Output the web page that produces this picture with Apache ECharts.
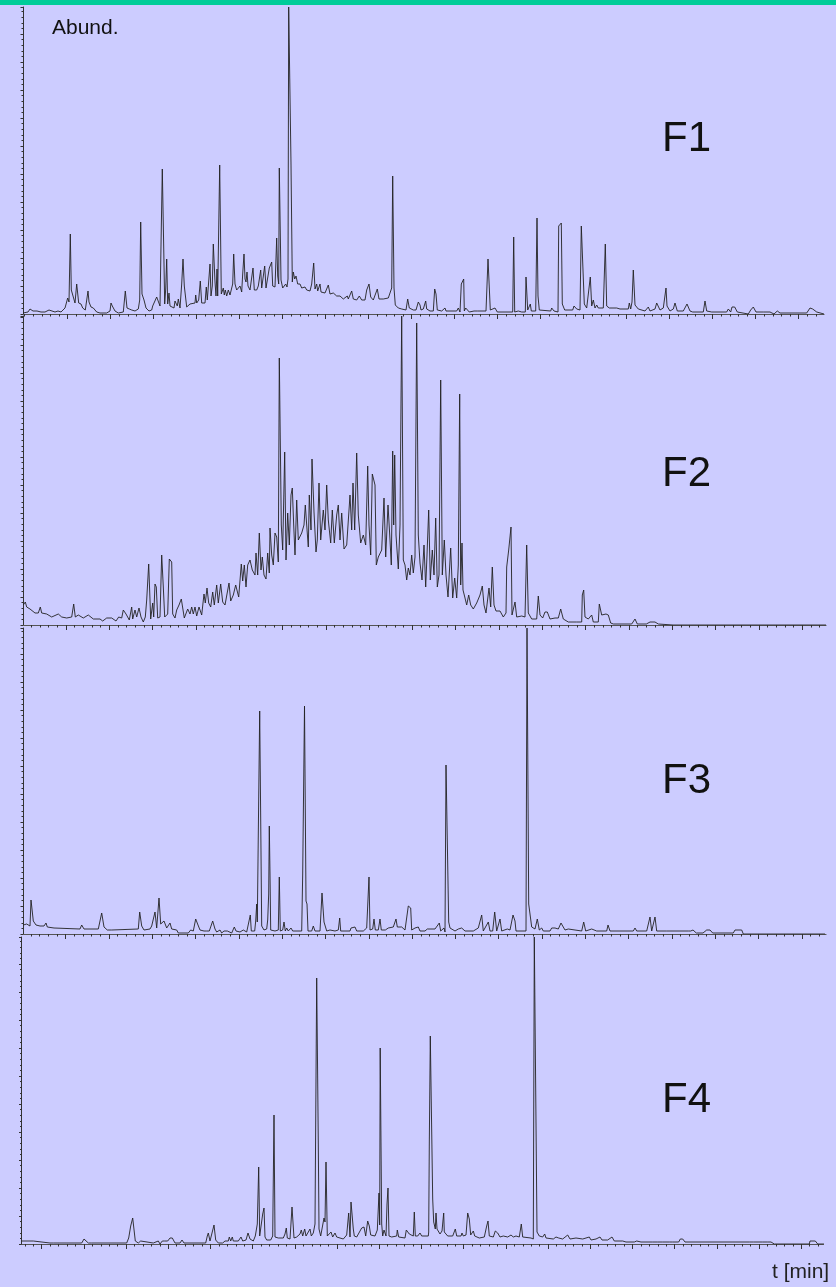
<!DOCTYPE html>
<html><head><meta charset="utf-8">
<style>html,body{margin:0;padding:0;background:#ccccff}#c{width:836px;height:1287px}</style>
<script src="https://cdn.jsdelivr.net/npm/echarts@6/dist/echarts.min.js"></script>
</head><body><div id="c"></div>
<script>
// [scan, abundance]
const f1Trace=[[0,1],[2,2],[5,2],[7,5],[8,5],[10,3],[14,3],[18,2],[20,3],[22,2],[24,3],[26,4],[28,2],[32,2],[35,3],[38,2],[40,3],[42,6],[44.7,16],[46,12],[47.3,80],[48.3,24],[50,22],[52,11],[53,11],[53.7,30],[55,30],[55.7,11],[58,10],[59.7,6],[62.3,4],[64.3,5],[65,23],[66,12],[67,13],[68,7],[70.3,6],[73.7,2],[77,1],[83.7,1],[87,3],[88,11],[89.3,8],[92,3],[95.3,1],[100.3,2],[101.7,3],[102.3,23],[103.3,25],[104,6],[106.3,5],[108.7,4],[112,3],[115.3,5],[116.7,14],[117.7,92],[119,20],[121,14],[123,6],[126,3],[128.7,4],[129.7,8],[131.3,6],[133.7,17],[135.3,16],[137,8],[137.7,50],[139.3,145],[140.3,145],[141,50],[141.7,10],[142.7,25],[143.7,55],[144.7,10],[146,21],[147,8],[148.7,6],[151,6],[152,13],[153.7,14],[154.3,8],[155.3,15],[157,6],[158.7,30],[160,55],[161.3,28],[162.7,28],[163.7,7],[167,10],[172,11],[172.7,19],[173.7,11],[175.7,14],[177.3,33],[178.7,11],[182,11],[183.3,27],[184.3,14],[186.3,16],[187,50],[188,18],[189.3,28],[190.3,70],[192,32],[193,18],[194,45],[194.7,18],[195.3,60],[196.7,149],[197.3,149],[198.3,20],[199.3,18],[200.3,26],[201.3,19],[202.3,24],[203.7,18],[205.3,24],[207,19],[208.7,20],[209.7,30],[210.7,60],[212,30],[213.7,24],[215.3,22],[217,28],[218.7,22],[219.7,40],[221,60],[222,35],[223,32],[224,42],[225,28],[227,24],[228.7,22],[230,46],[231.3,24],[233.7,24],[235.3,28],[237.7,44],[238.7,26],[240.3,26],[241.7,48],[243,26],[244.7,25],[246.3,46],[248.7,52],[249.7,28],[252,27],[253.7,76],[254.7,38],[255.7,30],[256.3,146],[257.3,146],[258,34],[259.7,26],[261,28],[262.7,30],[264,27],[265,35],[265.7,307],[266.7,307],[268,150],[269.3,32],[270.3,42],[271.7,35],[273,38],[274.7,30],[277,30],[278.7,26],[282,27],[283.7,24],[285.3,25],[287,23],[288.7,30],[290.7,51],[292,25],[293.7,30],[294.7,23],[297,30],[298,22],[302,21],[305.3,29],[307,20],[310.3,21],[313.7,18],[317,18],[320.3,15],[324.3,18],[325.3,15],[328.7,23],[330.3,15],[333.7,14],[336.3,18],[338.7,14],[342,14],[343.7,24],[346,30],[347.7,17],[350.3,14],[354.3,25],[356,15],[360.3,15],[365.3,16],[368.7,26],[369.7,138],[371,26],[372.3,9],[375.3,6],[378.7,5],[383,4],[384.7,15],[386.3,6],[390.3,4],[393,4],[395.3,12],[397,9],[398,4],[400.3,5],[402.7,13],[403.7,5],[407,3],[410.3,3],[411.7,25],[413,20],[414.3,4],[418.7,3],[422,6],[423,3],[433.7,3],[435.3,6],[437,2],[438.3,30],[440.7,35],[441.3,3],[442.7,6],[444.3,6],[446.3,2],[451,3],[454.3,3],[456.3,2],[463,3],[465,55],[467.3,4],[472,6],[474.3,2],[481,2],[489.7,2],[490.7,77],[491.7,2],[495.3,3],[498.7,2],[502.3,2],[503,37],[504.7,4],[506.3,3],[507.3,10],[508.3,3],[512.7,3],[514,96],[515,18],[516.3,4],[527.7,3],[528.7,6],[531,3],[535,2],[535.7,88],[538.3,91],[539.3,10],[540.3,10],[541.7,4],[549.7,4],[551,8],[553.7,5],[557,4],[558.3,88],[560.3,89],[561.3,10],[563.7,6],[565.3,6],[567.3,37],[568.7,8],[570.3,14],[572,6],[573.7,9],[575.3,6],[580.3,6],[582.3,70],[583.7,8],[586.3,6],[593.7,6],[595,8],[597,5],[599,7],[605.3,5],[606.3,11],[607.7,5],[609,12],[610.3,44],[612,9],[615.3,5],[622,3],[625.3,7],[627,3],[632,5],[633.7,11],[635.3,11],[637,4],[640.3,6],[643,26],[644,8],[647,3],[650.3,5],[652,11],[654.3,3],[660.3,3],[662,2],[664,10],[667,3],[669.7,2],[680.3,2],[682,13],[683.7,3],[688.7,2],[703.7,2],[705.3,5],[707.7,2],[709,7],[711.7,7],[714.3,2],[725.3,0],[727.7,4],[730.3,7],[733,2],[740.3,2],[747,2],[751,0],[754.3,3],[757,1],[783.7,1],[787,6],[789.7,5],[793.7,2],[795.3,0],[801,0]];
const f2Trace=[[0.3,20],[2.3,23],[3.7,18],[7,16],[12,12],[15.3,12],[17.3,18],[18.7,12],[23.7,11],[28.7,8],[35.3,11],[38.7,8],[43.7,7],[45.3,8],[48.7,8],[50.7,21],[52.3,8],[55.3,10],[60.3,7],[65.3,10],[70.3,6],[77,6],[79.7,4],[83.7,7],[88.7,7],[93,4],[95.7,8],[98.7,7],[100.3,15],[103,11],[106.3,5],[108.7,18],[109.7,6],[112,15],[113.7,8],[116,17],[118,8],[120.3,3],[122.3,8],[123.7,25],[125.7,61],[127.7,6],[129.7,22],[130.7,8],[132,41],[133.3,38],[134.7,7],[137,8],[138.7,70],[140.3,38],[141.7,8],[144.7,11],[146.3,66],[148.7,63],[149.7,11],[152,7],[153.7,15],[156,20],[158.3,26],[160,25],[161.3,7],[163,6],[164.7,16],[167,11],[168.7,18],[170.3,11],[172,18],[173.7,9],[176,18],[178.7,10],[181,31],[182.3,22],[184,37],[185.7,22],[187.7,18],[189.7,33],[191.3,20],[193.7,40],[195.3,22],[197.7,41],[199.7,23],[202,20],[203.7,21],[206,42],[207.7,24],[210.3,30],[212.7,40],[215.7,28],[218.3,61],[219.7,44],[221.3,60],[223,38],[224.7,60],[227,65],[229.3,55],[232,50],[233,72],[234.7,50],[236.3,92],[238,55],[239.3,68],[241,50],[243,46],[244.7,72],[246.3,52],[247,97],[248.7,70],[250.3,60],[252,92],[253.7,88],[255.3,63],[256.3,267],[258.3,100],[259.7,75],[261.7,173],[263,65],[264.7,112],[266.3,80],[268,130],[269.3,137],[270.7,100],[272,70],[273.7,125],[275.3,85],[277,85],[278.7,92],[281,100],[282.3,120],[283.7,100],[285.3,78],[286.3,130],[288,95],[289,166],[291,113],[293,73],[294.3,85],[296,142],[297.7,85],[300.3,115],[302,95],[303.7,140],[305.3,105],[307.7,82],[309.3,115],[311.3,82],[313.7,110],[315.3,120],[317,85],[318.7,112],[321,76],[323.7,80],[327,130],[328.7,95],[330,142],[331.7,95],[333.7,172],[335.3,110],[337.7,82],[340.3,90],[342.7,80],[344.7,159],[346,100],[347.7,70],[349.3,151],[352,140],[353.3,60],[355.3,68],[358.7,75],[361,127],[362.7,68],[365,120],[367,85],[368.3,60],[369.7,174],[370.7,100],[371.7,170],[373,90],[375.3,56],[377,100],[378.7,309],[380.3,65],[382,60],[383.7,45],[385.3,57],[387,50],[388.7,70],[390.3,52],[392,68],[393.7,302],[395.3,90],[397,62],[399,45],[401,80],[402.7,38],[404,70],[405.7,115],[407.3,45],[409.3,75],[411,50],[412.7,107],[414.3,38],[416,50],[417.7,245],[419.3,50],[421.3,85],[423,50],[425,28],[427.7,77],[429.7,27],[431.7,47],[433.7,27],[435.3,60],[436.7,231],[437.7,40],[439,82],[440,35],[442,27],[443.7,20],[445.7,30],[447.7,20],[450.3,16],[453.7,22],[457,30],[459.3,39],[461,20],[463,12],[466,37],[467.7,18],[469.3,58],[471,20],[473,14],[477,14],[480.3,8],[483,12],[483.7,58],[485,58],[485.7,75],[488,98],[489,10],[492,23],[493.7,8],[498.7,9],[502,8],[503.7,80],[505.3,12],[508.7,6],[513.7,6],[515.3,29],[517,10],[519.7,7],[522,13],[524.3,13],[527,6],[532,7],[535.3,7],[537.7,16],[540.3,6],[545.3,3],[553.7,3],[558.7,3],[559.3,30],[560.7,35],[562,8],[565.3,6],[568.7,10],[570.3,3],[575.3,3],[576.3,21],[578.7,10],[580.3,11],[583,11],[585.3,10],[587.7,2],[590.3,1],[602,1],[608.7,1],[612,6],[614.3,1],[623.3,1],[627,3],[628.7,1],[632,3],[635.3,1],[650,0],[803,0]];
const f3Trace=[[0.3,9],[3.7,10],[7,8],[8,34],[10.3,13],[13,9],[17,8],[21,8],[23,11],[24.3,7],[31,6],[32,5],[57,5],[58.7,9],[61,5],[67,5],[75.3,5],[78.7,21],[81,7],[84.3,4],[88.7,4],[115.3,5],[116.7,22],[118.7,8],[121,4],[127,5],[128.7,8],[130.3,6],[132,22],[133.7,6],[136,36],[137.7,10],[141,13],[143.7,6],[147,11],[148.7,5],[153.7,4],[155.3,1],[165.3,1],[167.7,4],[170.3,3],[171.3,1],[172.7,15],[173.7,15],[175,9],[177,4],[181,3],[183.7,3],[186.3,3],[188.3,1],[189.7,13],[192,5],[193.7,2],[197,4],[198.7,1],[201,3],[204.3,3],[208.7,1],[211.3,7],[213,3],[217,2],[220.3,4],[223.7,2],[225.7,3],[227.3,19],[228.3,3],[231.7,3],[232.7,13],[233.7,30],[234.3,12],[236.7,223],[237.7,223],[238.7,8],[241,4],[243.7,5],[244.7,14],[245.7,40],[246.3,108],[247,60],[247.7,4],[252,3],[255.3,4],[256.3,57],[257.3,3],[259.7,4],[261,12],[262.3,3],[263.7,6],[265.3,3],[268,6],[269.7,3],[278.7,3],[279.7,60],[281.5,228],[282.3,228],[283,33],[284,30],[285,3],[288.7,3],[290.3,8],[292,3],[297,3],[299,41],[301,12],[302.7,12],[303.7,3],[307,4],[308.7,6],[312,3],[315.3,4],[316.7,16],[317.7,3],[327,3],[328,6],[329.7,5],[332,7],[333.7,3],[340.3,3],[343.7,6],[345,8],[346,57],[347,4],[349.7,5],[351,15],[352.3,4],[355.3,4],[357,15],[358.3,4],[360.3,6],[362.3,4],[365.3,6],[367,4],[370.3,7],[373,15],[374.3,7],[378.7,7],[382,4],[385.3,28],[387.7,26],[388.7,4],[392,6],[395.3,7],[397,3],[398.7,5],[402,3],[404.3,5],[412,5],[413.7,5],[416.3,11],[417.7,3],[421,6],[422,2],[423,169],[424.3,169],[425.7,12],[427,6],[432,3],[435.3,5],[438.7,6],[442,3],[447,3],[450.3,3],[455.3,6],[457.3,6],[458.7,19],[460.3,3],[465.3,12],[467,3],[469.7,3],[471.7,22],[473.7,3],[477,15],[478.7,3],[484.3,5],[487,4],[488.7,3],[490,19],[492,13],[493,3],[503,3],[504,306],[505,306],[505.7,30],[507,20],[508.7,7],[512,5],[514.3,15],[516.3,4],[518.7,6],[520.3,3],[527,3],[528.7,6],[532,6],[535.3,5],[538,11],[539.7,8],[542,4],[545.3,5],[547,3],[558.7,3],[560.7,12],[562.7,3],[568.7,5],[570.3,3],[573.7,3],[583.7,3],[585,9],[587,3],[610.3,3],[612,6],[613.7,3],[623.7,3],[627,17],[628.7,3],[630.3,3],[632,17],[633.7,3],[643.7,3],[665.3,3],[667.7,3],[670,4],[673.3,1],[680,1],[683.7,4],[687,4],[689.7,1],[710.3,1],[712,4],[718.7,4],[720.3,0],[802,0]];
const f4Trace=[[0.2,3],[8.5,3],[9.5,1],[11.8,3],[13.5,1],[28.5,1],[30.2,3],[31.8,1],[60.2,1],[62.5,5],[64.2,6],[66.8,1],[70.2,1],[71.8,3],[73.5,1],[105.2,1],[107.2,6],[109.2,18],[111.2,26],[112.8,26],[113.8,3],[116.8,1],[119.2,3],[121.2,1],[131.8,1],[133.5,3],[136.8,3],[138.5,0],[140.8,3],[143.2,3],[144.5,1],[146.2,3],[148.5,6],[150.8,6],[153.5,1],[158.5,1],[160.5,4],[162.5,1],[168.5,1],[170.5,3],[172.5,1],[184.2,1],[185.8,8],[186.8,11],[188.5,3],[190.5,11],[192.5,19],[194.2,4],[196.8,1],[198.5,3],[201.2,1],[203.5,3],[206.8,3],[207.8,7],[209.2,3],[210.8,7],[211.8,3],[216.8,3],[219.5,7],[221.2,3],[224.5,4],[226.5,11],[228.5,5],[231.8,3],[233.8,8],[235.2,6],[235.8,20],[237.2,77],[238.2,8],[240.2,7],[241.2,30],[242.5,36],[243.5,7],[245.2,4],[249.2,4],[251.2,8],[252.5,129],[253.5,7],[256.8,6],[261.8,6],[263.5,10],[264.8,16],[265.8,6],[268.5,5],[270.5,37],[271.8,36],[272.5,6],[275.2,7],[276.8,6],[278.5,10],[279.8,14],[281.2,8],[283.2,15],[284.5,8],[286.8,12],[288.5,15],[289.8,8],[291.8,11],[293.5,20],[295.2,266],[296.2,266],[296.8,100],[297.5,15],[299.2,8],[301.2,8],[302.5,26],[303.5,22],[304.5,82],[305.8,8],[307.8,8],[309.5,12],[311.2,7],[313.5,11],[315.2,7],[321.8,5],[325.2,9],[327.2,31],[328.5,7],[329.5,42],[331.2,42],[331.8,15],[332.8,8],[335.2,7],[340.2,16],[342.5,17],[344.2,8],[346.2,23],[347.8,18],[349.2,9],[351.2,11],[353.5,8],[355.8,14],[357.5,51],[358.2,19],[358.7,196],[360.2,20],[361.2,8],[362.5,14],[364.5,8],[365.5,40],[366.5,56],[367.5,8],[370.2,7],[375.2,8],[375.8,14],[377.2,7],[383.5,6],[384.8,14],[387.8,10],[391.8,8],[392.8,32],[393.8,8],[396.2,8],[398.5,11],[400.2,8],[401.8,9],[406.8,8],[407.2,12],[407.8,100],[408.8,208],[410.2,208],[411.2,45],[412.2,22],[413.8,15],[414.5,31],[415.5,15],[418.5,10],[420.5,13],[422.2,31],[422.8,12],[426.2,8],[431.2,8],[433.8,15],[435.2,8],[439.5,8],[440.5,11],[441.8,8],[444.5,9],[446.2,31],[447.8,25],[449.2,9],[451.8,13],[453.2,8],[457.8,6],[462.8,7],[465.2,18],[466.5,23],[467.8,8],[471.8,7],[473.8,13],[476.2,11],[478.5,7],[481.8,8],[483.8,10],[486.2,7],[489.5,9],[491.8,7],[494.5,8],[497.8,7],[499.8,20],[501.2,7],[509.5,6],[511.8,5],[512.8,307],[514.8,307],[515.5,12],[517.8,8],[521.2,7],[523.2,10],[524.5,6],[531.8,5],[534.5,7],[537.2,6],[541.2,5],[546.2,9],[548.5,5],[554.5,6],[561.2,5],[567.8,7],[569.5,4],[574.5,5],[576.2,7],[578.5,7],[580.5,4],[586.2,4],[590.5,7],[592.8,3],[601.2,3],[604.5,2],[612.8,2],[615.2,3],[619.5,2],[631.2,2],[633.2,3],[636.2,2],[637.8,3],[641.2,2],[647.8,2],[649.2,3],[651.2,2],[657.2,2],[658.8,5],[661.2,5],[663.5,2],[727.8,2],[729.5,0],[731.8,2],[741.2,2],[741.8,0],[746.2,2],[749.5,2],[751.2,0],[752.8,0],[787.8,0],[788.5,3],[793.8,3],[796.2,0],[802.5,0]];
const traces=[f1Trace,f2Trace,f3Trace,f4Trace];
const panelNames=['F1','F2','F3','F4'];
const axisTitleY='Abund.';
const axisTitleX='t [min]';

const panels=[
 {left:23,  top:7,   w:801, h:307, tick0:44.7, step:43.0, nameY:142},
 {left:23,  top:316, w:803, h:309, tick0:43,   step:43.3, nameY:477},
 {left:23,  top:628, w:803, h:306, tick0:42.7, step:43.3, nameY:784},
 {left:21.5,top:937, w:802, h:307, tick0:20.2, step:42.2, nameY:1103}
];
function ticks(start,step,end){const r=[];for(let v=start;v<=end;v+=step)r.push(+v.toFixed(2));return r;}

const grid=[],xAxis=[],yAxis=[],series=[];
panels.forEach((p,i)=>{
  grid.push({left:p.left,top:p.top,width:p.w,height:p.h,containLabel:false});
  const line={show:true,onZero:false,lineStyle:{color:'#555',width:1.2}};
  const minor=p.step/5;
  let first=p.tick0%minor;
  xAxis.push({gridIndex:i,type:'value',min:0,max:p.w,position:'bottom',axisLine:line,splitLine:{show:false},axisLabel:{show:false},
    axisTick:{show:true,length:2.5,lineStyle:{color:'#333',width:1},customValues:ticks(first,minor,p.w)}});
  xAxis.push({gridIndex:i,type:'value',min:0,max:p.w,position:'bottom',axisLine:{show:false},splitLine:{show:false},axisLabel:{show:false},
    axisTick:{show:true,length:5,lineStyle:{color:'#333',width:1},customValues:ticks(p.tick0,p.step,p.w)}});
  yAxis.push({gridIndex:i,type:'value',min:0,max:p.h,interval:28,axisLine:{show:true,onZero:false,lineStyle:{color:'#333',width:1}},
    splitLine:{show:false},axisLabel:{show:false},
    axisTick:{show:true,length:2.5,lineStyle:{color:'#333',width:1}},
    minorTick:{show:true,splitNumber:5,length:1.5,lineStyle:{color:'#333',width:1}},minorSplitLine:{show:false}});
  series.push({type:'line',name:panelNames[i],xAxisIndex:i*2,yAxisIndex:i,data:traces[i],showSymbol:false,symbol:'none',smooth:false,
    lineStyle:{color:'#222',width:0.9},silent:true,animation:false,sampling:undefined});
});
const font='"Liberation Sans",Arial,sans-serif';
const graphic=[
 {type:'rect',left:0,top:0,shape:{width:836,height:5},style:{fill:'#00cc99'}},
 {type:'text',left:52,top:18,style:{text:axisTitleY,font:'21px '+font,fill:'#111'}},
 {type:'text',left:772,top:1262,style:{text:axisTitleX,font:'21px '+font,fill:'#222'}}
];
panels.forEach((p,i)=>graphic.push({type:'text',left:662,top:p.nameY-24,style:{text:panelNames[i],font:'42px '+font,fill:'#111'}}));

const chart=echarts.init(document.getElementById('c'),null,{renderer:'canvas',width:836,height:1287});
chart.setOption({backgroundColor:'#ccccff',animation:false,grid,xAxis,yAxis,series,graphic});
</script></body></html>
